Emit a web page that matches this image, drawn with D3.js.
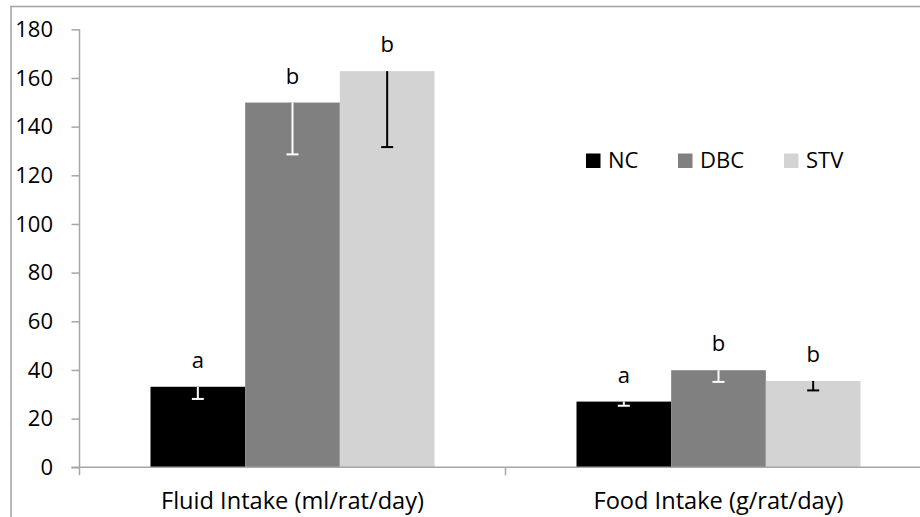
<!DOCTYPE html>
<html>
<head>
<meta charset="utf-8">
<script src="https://cdn.jsdelivr.net/npm/d3@7"></script>
<style>
  html, body { margin: 0; padding: 0; background: #fff; }
  svg { display: block; font-family: "Open Sans", Lato, sans-serif; }
</style>
</head>
<body>
<svg id="chart" width="920" height="517"></svg>
<script>
// ---- data ----
const categories = ["Fluid Intake (ml/rat/day)", "Food Intake (g/rat/day)"];
const seriesNames = ["NC", "DBC", "STV"];
const ncValues  = [33.1, 27.0];
const dbcValues = [149.9, 39.9];
const stvValues = [162.8, 35.5];
const ncErrors  = [5.0, 1.7];
const dbcErrors = [21.3, 4.8];
const stvErrors = [31.2, 3.9];
const ncLetters  = ["a", "a"];
const dbcLetters = ["b", "b"];
const stvLetters = ["b", "b"];
const yTicks = [0, 20, 40, 60, 80, 100, 120, 140, 160, 180];

(function () {
const seriesColors = { NC: "#000000", DBC: "#808080", STV: "#d3d3d3" };
const errColors = { NC: "#ffffff", DBC: "#ffffff", STV: "#000000" };

const values = { NC: ncValues, DBC: dbcValues, STV: stvValues };
const errors = { NC: ncErrors, DBC: dbcErrors, STV: stvErrors };
const letters = { NC: ncLetters, DBC: dbcLetters, STV: stvLetters };

const rows = [];
categories.forEach((c, i) => {
  seriesNames.forEach(s => {
    rows.push({ cat: c, series: s, value: values[s][i], err: errors[s][i], letter: letters[s][i] });
  });
});

// ---- layout ----
const svg = d3.select("#chart");
const axisColor = "#a6a6a6";
const fontSize = 22;
const pLeft = 79.5, pRight = 931.5, pTop = 29.3, pBottom = 467.3;

// chart border (cropped on right/bottom)
svg.append("rect")
  .attr("x", 11).attr("y", 6.5)
  .attr("width", 1000).attr("height", 600)
  .attr("fill", "none").attr("stroke", axisColor).attr("stroke-width", 1.6);

const x = d3.scaleBand().domain(categories).range([pLeft, pRight]).paddingInner(0).paddingOuter(0);
const bw = x.bandwidth();
const groupW = bw * 2 / 3;
const xs = d3.scaleBand().domain(seriesNames).range([(bw - groupW) / 2, (bw + groupW) / 2]).padding(0);
const y = d3.scaleLinear().domain([0, 180]).range([pBottom, pTop]);

// y axis
const yAxis = d3.axisLeft(y).tickValues(yTicks).tickSize(8).tickPadding(18.5);
const gy = svg.append("g").attr("transform", `translate(${pLeft},0)`).call(yAxis);
gy.select(".domain").remove();
gy.selectAll(".tick line").attr("stroke", axisColor).attr("stroke-width", 1.5);
gy.selectAll(".tick text").attr("font-size", fontSize).attr("font-family", "Open Sans").attr("fill", "#000");
svg.append("line")
  .attr("x1", pLeft).attr("x2", pLeft).attr("y1", pTop).attr("y2", pBottom + 8)
  .attr("stroke", axisColor).attr("stroke-width", 1.5);

// bars
const bars = svg.append("g");
bars.selectAll("rect").data(rows).join("rect")
  .attr("x", d => x(d.cat) + xs(d.series))
  .attr("y", d => y(d.value))
  .attr("width", xs.bandwidth())
  .attr("height", d => y(0) - y(d.value))
  .attr("fill", d => seriesColors[d.series]);

// x axis
svg.append("line")
  .attr("x1", pLeft - 8).attr("x2", 920).attr("y1", pBottom).attr("y2", pBottom)
  .attr("stroke", axisColor).attr("stroke-width", 1.5);
const xBoundaries = categories.map(c => x(c) + bw);
svg.selectAll(".xtick").data(xBoundaries).join("line")
  .attr("class", "xtick")
  .attr("x1", d => d).attr("x2", d => d)
  .attr("y1", pBottom).attr("y2", pBottom + 8)
  .attr("stroke", axisColor).attr("stroke-width", 1.5);
svg.selectAll(".xlabel").data(categories).join("text")
  .attr("class", "xlabel")
  .attr("x", d => x(d) + bw / 2)
  .attr("y", 508.5)
  .attr("text-anchor", "middle")
  .attr("font-size", 23.6)
  .attr("fill", "#000")
  .text(d => d);

// error bars (minus only)
const capW = 12;
const eb = svg.append("g");
rows.forEach(d => {
  const cx = x(d.cat) + xs(d.series) + xs.bandwidth() / 2;
  const col = errColors[d.series];
  eb.append("line").attr("x1", cx).attr("x2", cx)
    .attr("y1", y(d.value)).attr("y2", y(d.value - d.err))
    .attr("stroke", col).attr("stroke-width", 2);
  eb.append("line").attr("x1", cx - capW / 2).attr("x2", cx + capW / 2)
    .attr("y1", y(d.value - d.err)).attr("y2", y(d.value - d.err))
    .attr("stroke", col).attr("stroke-width", 2);
});

// significance letters
svg.selectAll(".letter").data(rows).join("text")
  .attr("class", "letter")
  .attr("x", d => x(d.cat) + xs(d.series) + xs.bandwidth() / 2)
  .attr("y", d => y(d.value) - 19)
  .attr("text-anchor", "middle")
  .attr("font-size", fontSize)
  .attr("fill", "#000")
  .text(d => d.letter);

// legend
const legendX = [586, 678, 784];
const lg = svg.append("g");
seriesNames.forEach((s, i) => {
  lg.append("rect").attr("x", legendX[i]).attr("y", 153.5).attr("width", 14.5).attr("height", 14.5)
    .attr("fill", seriesColors[s]);
  lg.append("text").attr("x", legendX[i] + 22).attr("y", 167.5)
    .attr("font-size", fontSize).attr("fill", "#000").text(s);
});
})();
</script>
</body>
</html>
